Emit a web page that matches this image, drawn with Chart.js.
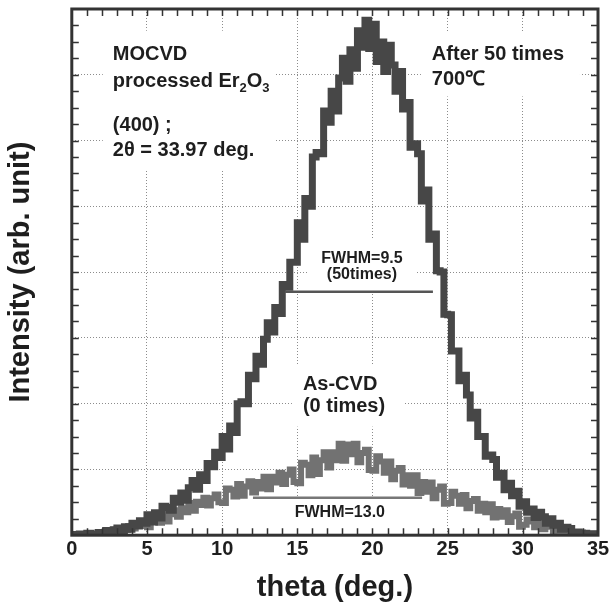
<!DOCTYPE html>
<html>
<head>
<meta charset="utf-8">
<script src="https://cdn.jsdelivr.net/npm/chart.js@4.4.1/dist/chart.umd.min.js"></script>
<style>
  body { margin: 0; background: #fff; }
  #wrap { width: 616px; height: 608px; }
</style>
</head>
<body>
<div id="wrap"><canvas id="xrdChart"></canvas></div>
<script>
// theta (deg.) sampled every 0.25
const theta = [
  0, 0.25, 0.5, 0.75, 1, 1.25, 1.5, 1.75, 2, 2.25, 2.5, 2.75, 3, 3.25, 3.5, 3.75, 4, 4.25, 4.5, 4.75,
  5, 5.25, 5.5, 5.75, 6, 6.25, 6.5, 6.75, 7, 7.25, 7.5, 7.75, 8, 8.25, 8.5, 8.75, 9, 9.25, 9.5, 9.75,
  10, 10.25, 10.5, 10.75, 11, 11.25, 11.5, 11.75, 12, 12.25, 12.5, 12.75, 13, 13.25, 13.5, 13.75, 14, 14.25, 14.5, 14.75,
  15, 15.25, 15.5, 15.75, 16, 16.25, 16.5, 16.75, 17, 17.25, 17.5, 17.75, 18, 18.25, 18.5, 18.75, 19, 19.25, 19.5, 19.75,
  20, 20.25, 20.5, 20.75, 21, 21.25, 21.5, 21.75, 22, 22.25, 22.5, 22.75, 23, 23.25, 23.5, 23.75, 24, 24.25, 24.5, 24.75,
  25, 25.25, 25.5, 25.75, 26, 26.25, 26.5, 26.75, 27, 27.25, 27.5, 27.75, 28, 28.25, 28.5, 28.75, 29, 29.25, 29.5, 29.75,
  30, 30.25, 30.5, 30.75, 31, 31.25, 31.5, 31.75, 32, 32.25, 32.5, 32.75, 33, 33.25, 33.5, 33.75, 34, 34.25, 34.5, 34.75,
  35
];

// after 50 times at 700C (dark trace)
const after50 = [
  0.01, 0, 0.02, 0, 0.03, 0.02, 0.01, 0.04, 0.03, 0.07, 0.03, 0.08, 0.11, 0.06, 0.13, 0.09, 0.18, 0.14, 0.22, 0.18,
  0.31, 0.2, 0.34, 0.26, 0.44, 0.42, 0.38, 0.56, 0.5, 0.64, 0.53, 0.72, 0.83, 0.7, 0.92, 0.83, 1.09, 1.04, 1.26, 1.18,
  1.5, 1.31, 1.66, 1.56, 2.0, 2.03, 2.0, 2.43, 2.38, 2.72, 2.6, 2.98, 3.23, 3.09, 3.46, 3.37, 3.81, 3.77, 4.15, 4.15,
  4.75, 4.5, 5.12, 5.0, 5.75, 5.82, 5.8, 6.45, 6.28, 6.75, 6.45, 6.95, 7.25, 6.9, 7.38, 7.1, 7.67, 7.42, 7.83, 7.4,
  7.77, 7.2, 7.5, 7.05, 7.45, 7.15, 6.75, 7.05, 6.48, 6.58, 5.9, 5.95, 5.8, 5.08, 5.25, 4.5, 4.58, 4.02, 4.0, 3.36,
  3.35, 2.8, 2.8, 2.35, 2.43, 2.13, 1.78, 1.87, 1.5, 1.5, 1.2, 1.22, 1.15, 0.88, 0.94, 0.69, 0.79, 0.6, 0.67, 0.44,
  0.51, 0.35, 0.4, 0.27, 0.35, 0.28, 0.18, 0.25, 0.15, 0.18, 0.09, 0.12, 0.1, 0.04, 0.05, 0.01, 0.03, 0, 0.02, 0,
  0
];

// as-CVD, 0 times (light trace)
const asCvd = [
  0, 0.01, 0.02, 0, 0.03, 0.01, 0.02, 0.04, 0.02, 0.05, 0.03, 0.09, 0.04, 0.1, 0.08, 0.14, 0.1, 0.15, 0.18, 0.14,
  0.12, 0.28, 0.27, 0.19, 0.33, 0.21, 0.32, 0.38, 0.28, 0.41, 0.35, 0.49, 0.37, 0.51, 0.46, 0.57, 0.45, 0.56, 0.62, 0.5,
  0.49, 0.71, 0.69, 0.59, 0.78, 0.6, 0.74, 0.82, 0.65, 0.81, 0.71, 0.89, 0.7, 0.89, 0.8, 0.95, 0.78, 0.92, 1.0, 0.81,
  0.79, 1.1, 1.07, 0.91, 1.18, 0.93, 1.14, 1.26, 1.03, 1.26, 1.14, 1.39, 1.13, 1.38, 1.23, 1.39, 1.11, 1.25, 1.3, 0.99,
  0.98, 1.2, 1.12, 0.95, 1.12, 0.85, 0.98, 1.02, 0.77, 0.91, 0.75, 0.91, 0.64, 0.81, 0.66, 0.8, 0.56, 0.69, 0.74, 0.48,
  0.49, 0.66, 0.6, 0.48, 0.61, 0.41, 0.52, 0.55, 0.37, 0.48, 0.35, 0.47, 0.27, 0.4, 0.28, 0.38, 0.2, 0.29, 0.33, 0.13,
  0.16, 0.24, 0.21, 0.12, 0.2, 0.09, 0.13, 0.15, 0.06, 0.11, 0.05, 0.08, 0.03, 0.05, 0.02, 0.04, 0, 0.02, 0.03, 0,
  0
];

// FWHM bars: [start, end] in theta, plus the height they sit at
const fwhm50Theta = [14.17, 24.02];
const fwhm50Level = 3.7;
const fwhm0Theta = [12.05, 23.3];
const fwhm0Level = 0.57;

const xMax = 35;
const yMax = 8;

const FONT = "'Liberation Sans', Arial, Helvetica, sans-serif";
const TEXT = '#1e1e1e';

// annotation text, anchored in data units
const notes = [
  { x: 2.73, y: 7.23, size: 20, parts: [['MOCVD']] },
  { x: 2.73, y: 6.82, size: 20, parts: [['processed Er'], ['2', 1], ['O'], ['3', 1]] },
  { x: 2.73, y: 6.14, size: 20, parts: [['(400) ;']] },
  { x: 2.73, y: 5.76, size: 20, parts: [['2\u03b8 = 33.97 deg.']] },
  { x: 23.95, y: 7.23, size: 20, parts: [['After 50 times']] },
  { x: 23.95, y: 6.85, size: 20, parts: [['700\u2103']] },
  { x: 19.3, y: 4.14, size: 16, center: true, parts: [['FWHM=9.5']] },
  { x: 19.3, y: 3.89, size: 16, center: true, parts: [['(50times)']] },
  { x: 15.37, y: 2.2, size: 20, parts: [['As-CVD']] },
  { x: 15.37, y: 1.88, size: 20, parts: [['(0 times)']] },
  { x: 17.83, y: 0.27, size: 16, center: true, parts: [['FWHM=13.0']] }
];

// white patches behind the labels (theta0, theta1, top, bottom)
const noteBoxes = [
  [2.06, 13.51, 7.67, 5.56],
  [23.22, 33.8, 7.64, 6.67],
  [15.7, 22.95, 4.5, 3.74],
  [14.64, 22.16, 2.6, 1.65],
  [14.37, 21.3, 0.53, 0.04]
];

function pairs(xs, ys) {
  return xs.map((t, i) => ({ x: t, y: ys[i] }));
}

const frameAndNotes = {
  id: 'frameAndNotes',
  beforeDatasetsDraw(chart) {
    const { ctx, scales: { x, y } } = chart;
    ctx.save();
    ctx.fillStyle = '#fff';
    noteBoxes.forEach(b => {
      const x0 = x.getPixelForValue(b[0]), x1 = x.getPixelForValue(b[1]);
      const y0 = y.getPixelForValue(b[2]), y1 = y.getPixelForValue(b[3]);
      ctx.fillRect(x0, y0, x1 - x0, y1 - y0);
    });
    ctx.restore();
  },
  afterDatasetsDraw(chart) {
    const { ctx, scales: { x, y } } = chart;
    ctx.save();
    ctx.fillStyle = TEXT;
    ctx.textBaseline = 'alphabetic';
    ctx.textAlign = 'left';
    notes.forEach(n => {
      const big = 'bold ' + n.size + 'px ' + FONT;
      const small = 'bold ' + Math.round(n.size * 0.65) + 'px ' + FONT;
      let total = 0;
      n.parts.forEach(p => { ctx.font = p[1] ? small : big; total += ctx.measureText(p[0]).width; });
      let px = x.getPixelForValue(n.x) - (n.center ? total / 2 : 0);
      const py = y.getPixelForValue(n.y);
      n.parts.forEach(p => {
        ctx.font = p[1] ? small : big;
        ctx.fillText(p[0], px, py + (p[1] ? n.size * 0.28 : 0));
        px += ctx.measureText(p[0]).width;
      });
    });
    ctx.restore();
  },
  afterDraw(chart) {
    const { ctx, chartArea: ca, scales: { x, y } } = chart;
    ctx.save();
    ctx.strokeStyle = '#333';
    ctx.lineWidth = 1.5;
    ctx.beginPath();
    for (let v = 1; v < xMax; v++) {
      const px = Math.round(x.getPixelForValue(v)) + 0.5;
      ctx.moveTo(px, ca.bottom); ctx.lineTo(px, ca.bottom - 7);
      ctx.moveTo(px, ca.top); ctx.lineTo(px, ca.top + 7);
    }
    for (let v = 0.25; v < yMax; v += 0.25) {
      const py = Math.round(y.getPixelForValue(v)) + 0.5;
      ctx.moveTo(ca.left, py); ctx.lineTo(ca.left + 7, py);
      ctx.moveTo(ca.right, py); ctx.lineTo(ca.right - 7, py);
    }
    ctx.stroke();
    ctx.lineWidth = 3;
    ctx.strokeRect(ca.left, ca.top, ca.right - ca.left, ca.bottom - ca.top);
    ctx.restore();
  }
};

const gridStyle = { color: '#8c8c8c', lineWidth: 1, drawTicks: false };

new Chart(document.getElementById('xrdChart'), {
  type: 'line',
  data: {
    datasets: [
      {
        label: 'FWHM=9.5',
        data: [{ x: fwhm50Theta[0], y: fwhm50Level }, { x: fwhm50Theta[1], y: fwhm50Level }],
        borderColor: '#555',
        borderWidth: 2.5,
        pointRadius: 0,
        order: 0
      },
      {
        label: 'FWHM=13.0',
        data: [{ x: fwhm0Theta[0], y: fwhm0Level }, { x: fwhm0Theta[1], y: fwhm0Level }],
        borderColor: '#777',
        borderWidth: 2.5,
        pointRadius: 0,
        order: 0
      },
      {
        label: 'After 50 times',
        data: pairs(theta, after50),
        borderColor: '#474747',
        borderWidth: 7,
        stepped: true,
        pointRadius: 0,
        order: 1
      },
      {
        label: 'As-CVD',
        data: pairs(theta, asCvd),
        borderColor: '#727272',
        borderWidth: 6,
        stepped: true,
        pointRadius: 0,
        order: 2
      }
    ]
  },
  options: {
    responsive: true,
    maintainAspectRatio: false,
    animation: false,
    layout: { padding: { left: 0, right: 18, top: 9, bottom: 0 } },
    plugins: { legend: { display: false }, tooltip: { enabled: false } },
    scales: {
      x: {
        type: 'linear',
        min: 0,
        max: xMax,
        ticks: { stepSize: 5, color: TEXT, padding: 2, font: { family: FONT, size: 20, weight: 'bold' } },
        grid: gridStyle,
        border: { display: false, dash: [1, 2] },
        title: {
          display: true,
          text: 'theta (deg.)',
          color: TEXT,
          font: { family: FONT, size: 29, weight: 'bold' },
          padding: { top: 7, bottom: 3 }
        }
      },
      y: {
        min: 0,
        max: yMax,
        ticks: { display: false, stepSize: 1 },
        grid: gridStyle,
        border: { display: false, dash: [1, 2] },
        title: {
          display: true,
          text: 'Intensity (arb. unit)',
          color: TEXT,
          font: { family: FONT, size: 29, weight: 'bold' },
          padding: { top: 4, bottom: 33 }
        }
      }
    }
  },
  plugins: [frameAndNotes]
});
</script>
</body>
</html>
